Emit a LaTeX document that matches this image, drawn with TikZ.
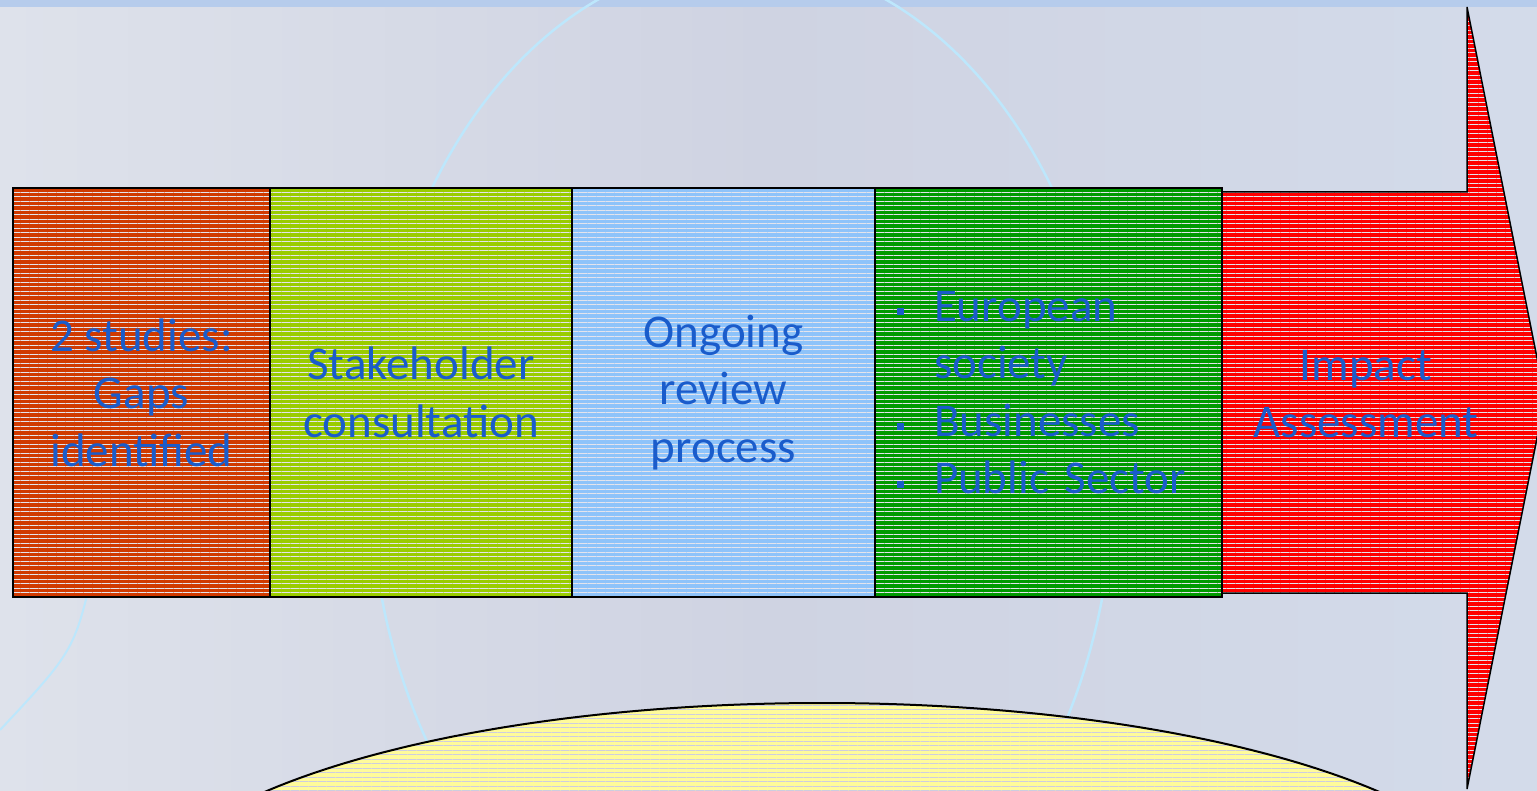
\documentclass[tikz,border=0pt]{standalone}
\usepackage{fontspec}
\setmainfont{Carlito}
\usetikzlibrary{positioning,patterns.meta,shapes.geometric}
\definecolor{BandBlue}{HTML}{B6CCEC}
\definecolor{BgLeft}{HTML}{DEE2EB}
\definecolor{BgMid}{HTML}{CFD3E2}
\definecolor{BgRight}{HTML}{D3DBEA}
\definecolor{GlobeLine}{HTML}{BDE7FC}
\definecolor{TextBlue}{HTML}{1A5CCB}
\definecolor{StudyRed}{HTML}{D03A00}
\definecolor{ConsultGreen}{HTML}{9ACC00}
\definecolor{ReviewBlue}{HTML}{8EC3FA}
\definecolor{GroupGreen}{HTML}{009A00}
\definecolor{ArrowRed}{HTML}{FF0000}
\definecolor{GoalYellow}{HTML}{FFFB9A}
\definecolor{StripeGray}{HTML}{E4E4EC}
\definecolor{StripeLilac}{HTML}{CDCDE0}
\newcommand\Bul{\makebox[37pt][l]{\rule[6pt]{7pt}{7pt}}}
\newcommand\NoBul{\hspace*{37pt}}

\begin{document}
\begin{tikzpicture}[x=1pt,y=-1pt,node distance=0pt,
    stripes/.style={preaction={fill=#1},pattern={Lines[angle=0,distance=4.5pt,line width=1pt]},pattern color=StripeGray},
    box/.style={stripes=#1,draw=black,line width=1.5pt,minimum height=409pt,inner sep=0pt,outer sep=0pt,
        align=center,text=TextBlue,font=\fontsize{47pt}{57.6pt}\selectfont},
    label/.style={align=center,text=TextBlue,font=\fontsize{47pt}{57.6pt}\selectfont}]
    \clip (0,0) rectangle (1537,791);
    % background
    \shade[left color=BgLeft,right color=BgRight,middle color=BgMid] (0,0) rectangle (1537,791);
    \fill[BandBlue] (0,0) rectangle (1537,7);
    \draw[GlobeLine,line width=2.5pt] (742,470) ellipse [x radius=372pt,y radius=510pt];
    \draw[GlobeLine,line width=2pt] (95,560) .. controls (75,650) .. (0,730);
    % arrow
    \draw[stripes=ArrowRed,draw=black,line width=1.5pt] (1222,192) -- (1467,192) -- (1467,7) -- (1545,398)
        -- (1467,789) -- (1467,593) -- (1222,593) -- cycle;
    \node[label] (Impact) at (1366,394) {Impact\\Assessment};
    % steps
    \node[box=StudyRed,minimum width=257pt,anchor=north west] (Studies) at (13,188) {2 studies:\\Gaps\\identified};
    \node[box=ConsultGreen,minimum width=302pt,right=of Studies] (Consult) {Stakeholder\\consultation};
    \node[box=ReviewBlue,minimum width=303pt,right=of Consult] (Review) {Ongoing\\review\\process};
    \node[box=GroupGreen,minimum width=347pt,right=of Review,align=left,text width=303pt,inner xsep=22pt] (Groups)
        {\Bul European\\\NoBul society\\\Bul Businesses\\\Bul Public Sector};
    % goal
    \node[ellipse,stripes=GoalYellow,pattern color=StripeLilac,draw=black,line width=2pt,
        minimum width=1376pt,minimum height=430pt] (Goal) at (822,918) {};
\end{tikzpicture}
\end{document}
